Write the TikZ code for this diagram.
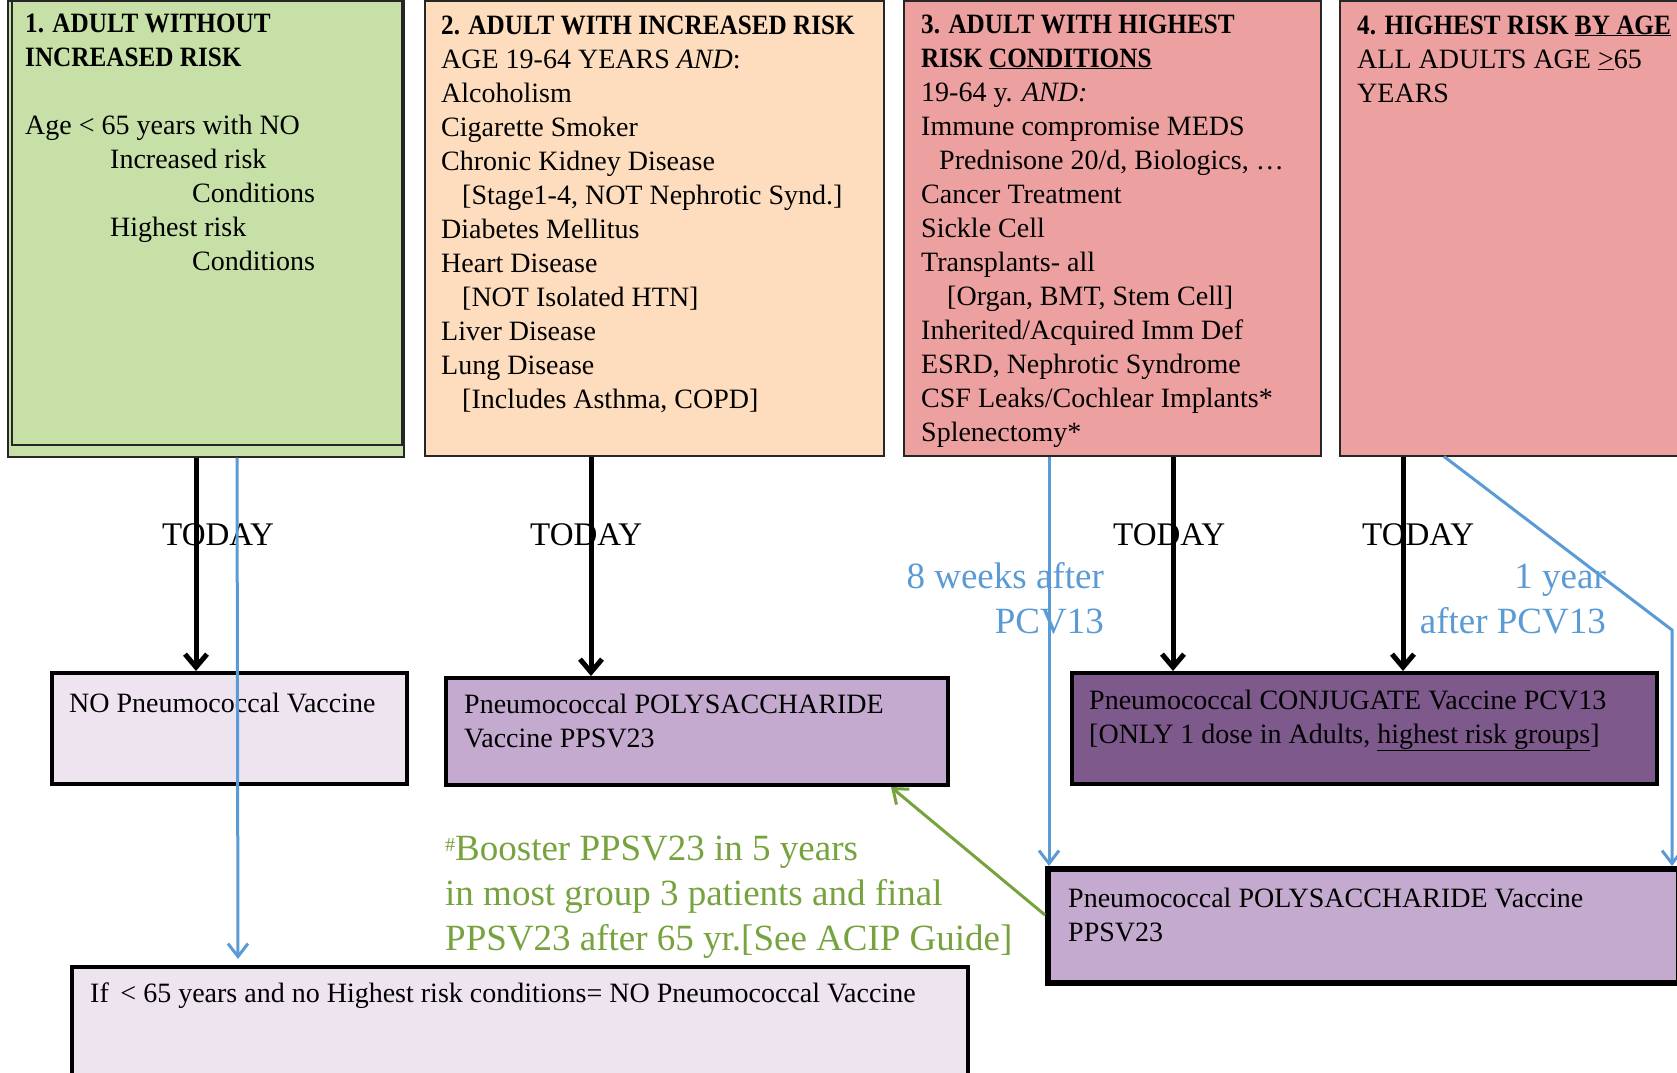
\documentclass[tikz,border=0pt]{standalone}
\usepackage{fontspec}
\setmainfont{Liberation Serif}[BoldFeatures={FakeStretch=0.9}]
\usetikzlibrary{arrows.meta}
\definecolor{greenfill}{HTML}{C6E0A8}
\definecolor{peachfill}{HTML}{FDDDBE}
\definecolor{pinkfill}{HTML}{ECA1A0}
\definecolor{lilacfill}{HTML}{EDE4F0}
\definecolor{mauvefill}{HTML}{C4AACF}
\definecolor{plumfill}{HTML}{7D598C}
\definecolor{laterblue}{HTML}{5B9BD5}
\definecolor{notegreen}{HTML}{77A33F}
\tikzset{
	riskbox/.style={draw=black!85, line width=1.5pt, anchor=north west, inner sep=0pt},
	vaccbox/.style={draw=black, line width=4pt, anchor=north west, inner sep=0pt},
	boxtext/.style={anchor=base west, align=left, inner sep=0pt, font=\fontsize{28}{34}\selectfont},
	todaylabel/.style={anchor=base west, inner sep=0pt, font=\fontsize{33}{40}\selectfont},
	laterlabel/.style={anchor=base east, align=right, inner sep=0pt, text=laterblue, font=\fontsize{37}{45}\selectfont},
	todayarrow/.style={line width=5pt, -{Straight Barb[length=13pt,width=22pt]}},
	laterarrow/.style={draw=laterblue, line width=3pt, -{Straight Barb[length=13pt,width=20pt]}},
}

\begin{document}
\begin{tikzpicture}[x=1pt, y=-1pt]
		%%%%% START %%%%%
		\useasboundingbox (0,0) rectangle (1677,1072);
		\clip (0,0) rectangle (1677,1072);
		
		% risk groups (text nodes sit on the baseline of their last line)
		\node[riskbox, fill=greenfill, minimum width=396pt, minimum height=456pt] (grpone) at (7,0) {};
		\draw[line width=2.5pt, color=black!85] (12,0) rectangle (402,445);
		\node[riskbox, fill=peachfill, minimum width=459pt, minimum height=455pt] (grptwo) at (424,0) {};
		\node[riskbox, fill=pinkfill, minimum width=417pt, minimum height=455pt] (grpthree) at (903,0) {};
		\node[riskbox, fill=pinkfill, minimum width=380pt, minimum height=455pt] (grpfour) at (1339,0) {};
		
		\node[boxtext] (grponetxt) at (25,270) {\textbf{1. ADULT WITHOUT}\\
			\textbf{INCREASED RISK}\\[34pt]
			Age < 65 years with NO\\
			\hspace*{85pt}Increased risk\\
			\hspace*{167pt}Conditions\\
			\hspace*{85pt}Highest risk\\
			\hspace*{167pt}Conditions};
		\node[boxtext] (grptwotxt) at (441,408) {\textbf{2. ADULT WITH INCREASED RISK}\\
			AGE 19-64 YEARS \textit{AND}:\\
			Alcoholism\\
			Cigarette Smoker\\
			Chronic Kidney Disease\\
			\hspace*{21pt}[Stage1-4, NOT Nephrotic Synd.]\\
			Diabetes Mellitus\\
			Heart Disease\\
			\hspace*{21pt}[NOT Isolated HTN]\\
			Liver Disease\\
			Lung Disease\\
			\hspace*{21pt}[Includes Asthma, COPD]};
		\node[boxtext] (grpthreetxt) at (921,441) {\textbf{3. ADULT WITH HIGHEST}\\
			\textbf{RISK \underline{CONDITIONS}}\\
			19-64 y. \textit{AND:}\\
			Immune compromise MEDS\\
			\hspace*{18pt}Prednisone 20/d, Biologics, …\\
			Cancer Treatment\\
			Sickle Cell\\
			Transplants- all\\
			\hspace*{26pt}[Organ, BMT, Stem Cell]\\
			Inherited/Acquired Imm Def\\
			ESRD, Nephrotic Syndrome\\
			CSF Leaks/Cochlear Implants*\\
			Splenectomy*};
		\node[boxtext] (grpfourtxt) at (1357,102) {\textbf{4. HIGHEST RISK \underline{BY AGE}}\\
			ALL ADULTS AGE \underline{>}65\\
			YEARS};
		
		% vaccines
		\node[vaccbox, fill=lilacfill, minimum width=355pt, minimum height=111pt] (novacc) at (50,671) {};
		\node[vaccbox, fill=mauvefill, minimum width=502pt, minimum height=107pt] (ppsvmid) at (444,676) {};
		\node[vaccbox, fill=plumfill, minimum width=585pt, minimum height=111pt] (pcvconj) at (1070,671) {};
		\node[vaccbox, fill=mauvefill, line width=6pt, minimum width=631pt, minimum height=114pt] (ppsvright) at (1045,866) {};
		\node[vaccbox, fill=lilacfill, minimum width=896pt, minimum height=150pt] (nobottom) at (70,965) {};
		
		\node[boxtext] (novacctxt) at (69,712) {NO Pneumococcal Vaccine};
		\node[boxtext] (ppsvmidtxt) at (464,747) {Pneumococcal POLYSACCHARIDE\\Vaccine PPSV23};
		\node[boxtext] (pcvconjtxt) at (1089,743) {Pneumococcal CONJUGATE Vaccine PCV13\\
			\relax[ONLY 1 dose in Adults, \underline{highest risk groups}]};
		\node[boxtext] (ppsvrighttxt) at (1068,941) {Pneumococcal POLYSACCHARIDE Vaccine\\PPSV23};
		\node[boxtext] (nobottomtxt) at (90,1002) {If \,< 65 years and no Highest risk conditions= NO Pneumococcal Vaccine};
		
		% labels
		\node[todaylabel] (todayone) at (162,545) {TODAY};
		\node[todaylabel] (todaytwo) at (530,545) {TODAY};
		\node[todaylabel] (todaythree) at (1113,545) {TODAY};
		\node[todaylabel] (todayfour) at (1362,545) {TODAY};
		\node[laterlabel] (eightweeks) at (1104,633) {8 weeks after\\PCV13};
		\node[laterlabel] (oneyear) at (1606,633) {1 year\\after PCV13};
		\node[anchor=base west, align=left, inner sep=0pt, text=notegreen, font=\fontsize{37}{45}\selectfont] (boosternote) at (445,950)
			{\raisebox{9pt}{\fontsize{20}{20}\selectfont\#}Booster PPSV23 in 5 years\\
			in most group 3 patients and final\\
			PPSV23 after 65 yr.[See ACIP Guide]};
		
		% today arrows
		\draw[todayarrow] ([xshift=189pt]grpone.south west) -- ([xshift=146pt]novacc.north west);
		\draw[todayarrow] ([xshift=167pt]grptwo.south west) -- ([xshift=147pt]ppsvmid.north west);
		\draw[todayarrow] ([xshift=270pt]grpthree.south west) -- ([xshift=103pt]pcvconj.north west);
		\draw[todayarrow] ([xshift=64pt]grpfour.south west) -- ([xshift=333pt]pcvconj.north west);
		
		% later arrows
		\draw[laterarrow, shorten >=6pt] ([xshift=230pt]grpone.south west) -- ([xshift=168pt]nobottom.north west);
		\draw[laterarrow] ([xshift=146pt]grpthree.south west) -- ([xshift=4pt]ppsvright.north west);
		\coordinate (yearbend) at (1672,630);
		\draw[laterarrow] ([xshift=105pt]grpfour.south west) -- (yearbend) -- (yearbend |- ppsvright.north);
		\draw[draw=notegreen, line width=3pt, -{Straight Barb[length=13pt,width=20pt]}] ([yshift=11pt]ppsvright.west) -- ([xshift=-59pt]ppsvmid.south east);
		
		%%%%% END %%%%%
	\end{tikzpicture}
\end{document}
